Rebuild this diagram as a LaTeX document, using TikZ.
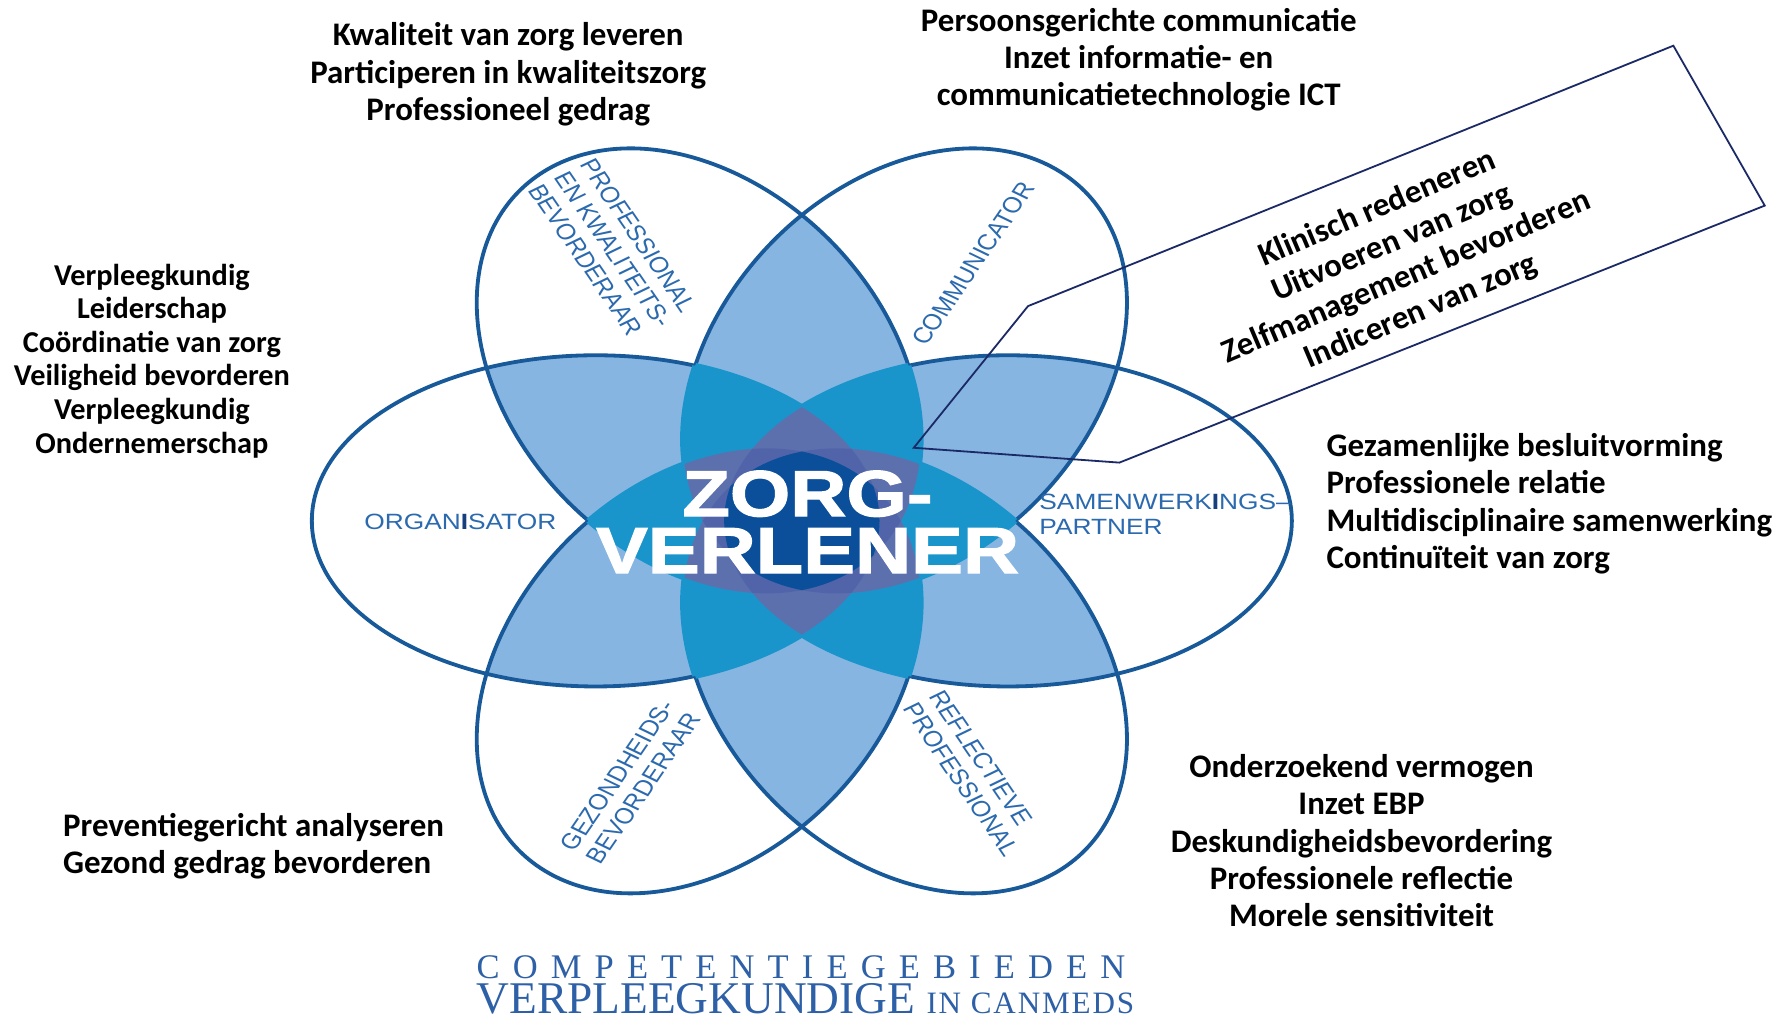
\documentclass[tikz,border=0pt]{standalone}
\usepackage{fontspec}
\setmainfont{Carlito}
\newfontfamily\rolefont{Liberation Sans}
\newfontfamily\corefont[BoldFeatures={FakeBold=1.6}]{Liberation Sans}
\newfontfamily\titlefont{Liberation Serif}
\newfontfamily\titlespaced[LetterSpace=38]{Liberation Serif}
\newfontfamily\titlesmall[LetterSpace=6]{Liberation Serif}

\definecolor{petalline}{HTML}{185999}
\definecolor{twofill}{HTML}{86B5E2}
\definecolor{threefill}{HTML}{1A95CB}
\definecolor{fourfill}{HTML}{5C70AE}
\definecolor{fivefill}{HTML}{5264A9}
\definecolor{sixfill}{HTML}{0B4F9B}
\definecolor{rolecol}{HTML}{2B6AAE}
\definecolor{roledark}{HTML}{163F7E}
\definecolor{calloutcol}{HTML}{1B2A66}
\definecolor{titlecol}{HTML}{2D60A6}

\begin{document}
\begin{tikzpicture}
[
x=0.2mm, y=-0.2mm,
petal/.style={rotate=60*#1, insert path={(180.5,0) ellipse [x radius=248.5, y radius=172.6]}},
petaledge/.style={draw=petalline, line width=1.9pt},
roletext/.style={text=rolecol, font=\rolefont\fontsize{13.1}{15}\selectfont, align=left, inner sep=0pt, transform shape},
coretext/.style={text=white, font=\corefont\bfseries\fontsize{38.7}{33.7}\selectfont, align=center, inner sep=0pt, transform shape},
sidetext/.style={font=\bfseries\fontsize{16.4}{18.5}\selectfont, align=center, inner sep=0pt},
calloutline/.style={draw=calloutcol, line width=0.9pt, line join=miter}
]
\path[use as bounding box, fill=white] (0,0) rectangle (1568,894);

% six petals, coloured by how many of them overlap
\begin{scope}[shift={(702,456)}, yscale=0.84]
\foreach \ia in {0,...,5}{
  \foreach \ib in {0,...,5}{
    \ifnum\ib>\ia
      \begin{scope}
        \clip[petal=\ia];
        \fill[twofill, petal=\ib];
      \end{scope}
    \fi}}
\foreach \ia in {0,...,5}
  \draw[petaledge, petal=\ia];
\foreach \ia in {0,...,5}{
  \foreach \ib in {0,...,5}{
    \foreach \ic in {0,...,5}{
      \ifnum\ib>\ia \ifnum\ic=\ia\else\ifnum\ic=\ib\else
        \begin{scope}
          \clip[petal=\ia]; \clip[petal=\ib];
          \filldraw[fill=threefill, draw=threefill, line width=2.8pt, petal=\ic];
        \end{scope}
      \fi\fi\fi}}}
\foreach \ia in {0,...,5}{
  \foreach \ib in {0,...,5}{
    \foreach \ic in {0,...,5}{
      \foreach \id in {0,...,5}{
        \ifnum\ib>\ia \ifnum\ic>\ib \ifnum\id>\ic
          \begin{scope}
            \clip[petal=\ia]; \clip[petal=\ib]; \clip[petal=\ic];
            \fill[fourfill, petal=\id];
          \end{scope}
        \fi\fi\fi}}}}
\foreach \ia/\ib/\ic/\id/\ie in {1/2/3/4/5, 0/2/3/4/5, 0/1/3/4/5, 0/1/2/4/5, 0/1/2/3/5, 0/1/2/3/4}{
  \begin{scope}
    \clip[petal=\ia]; \clip[petal=\ib]; \clip[petal=\ic]; \clip[petal=\id];
    \fill[fivefill, petal=\ie];
  \end{scope}}
\begin{scope}
  \clip[petal=0]; \clip[petal=1]; \clip[petal=2]; \clip[petal=3]; \clip[petal=4];
  \fill[sixfill, petal=5];
\end{scope}

\node[roletext] (organisator) at (-299,1) {ORGAN{\bfseries\color{roledark}I}SATOR};
\node[roletext] (partner) at (318,-7) {SAMENWERK{\bfseries\color{roledark}I}NGS–\\PARTNER};
\node[roletext, rotate=60] (communicator) at (150,-268) {COMMUNICATOR};
\node[roletext, rotate=-60] (professional) at (-165,-283) {PROFESSIONAL\\EN KWALITEITS-\\BEVORDERAAR};
\node[roletext, rotate=-60] (reflective) at (151,263) {REFLECTIEVE\\PROFESSIONAL};
\node[roletext, rotate=60] (health) at (-150,272) {GEZONDHEIDS-\\BEVORDERAAR};
\node[coretext] (core) at (5,1) {ZORG-\\VERLENER};
\end{scope}

\coordinate (tip) at (800,392);
\coordinate (bend) at (900,268);
\coordinate (boxtop) at (1465,40);
\coordinate (boxright) at (1545,180);
\coordinate (boxbottom) at (980,405);
\draw[calloutline] (tip) -- (bend) -- (boxtop) -- (boxright) -- (boxbottom) -- cycle;
\node[sidetext, rotate=23] (clinical) at (1225,228) {Klinisch redeneren\\Uitvoeren van zorg\\Zelfmanagement bevorderen\\Indiceren van zorg};

\node[sidetext] (quality) at (445,65) {Kwaliteit van zorg leveren\\Participeren in kwaliteitszorg\\Professioneel gedrag};
\node[sidetext] (communication) at (997,52) {Persoonsgerichte communicatie\\Inzet informatie- en\\communicatietechnologie ICT};
\node[sidetext, font=\bfseries\fontsize{15.1}{16.7}\selectfont] (organising) at (133,316) {Verpleegkundig\\Leiderschap\\Coördinatie van zorg\\Veiligheid bevorderen\\Verpleegkundig\\Ondernemerschap};
\node[sidetext, align=left, anchor=west] (collaboration) at (1161,441) {Gezamenlijke besluitvorming\\Professionele relatie\\Multidisciplinaire samenwerking\\Continuïteit van zorg};
\node[sidetext] (reflection) at (1192,736) {Onderzoekend vermogen\\Inzet EBP\\Deskundigheidsbevordering\\Professionele reflectie\\Morele sensitiviteit};
\node[sidetext, align=left, anchor=west] (prevention) at (55,741) {Preventiegericht analyseren\\Gezond gedrag bevorderen};

\node[anchor=base west, inner sep=0pt, text=titlecol] (titletop) at (417,857) {\titlespaced\fontsize{17.2}{18}\selectfont COMPETENTIEGEBIEDEN};
\node[anchor=base west, inner sep=0pt, text=titlecol] (titlebottom) at (417,887) {\titlefont\fontsize{22.6}{23}\selectfont VERPLEEGKUNDIGE\ \titlesmall\fontsize{15.5}{16}\selectfont IN CANMEDS};
\end{tikzpicture}
\end{document}
